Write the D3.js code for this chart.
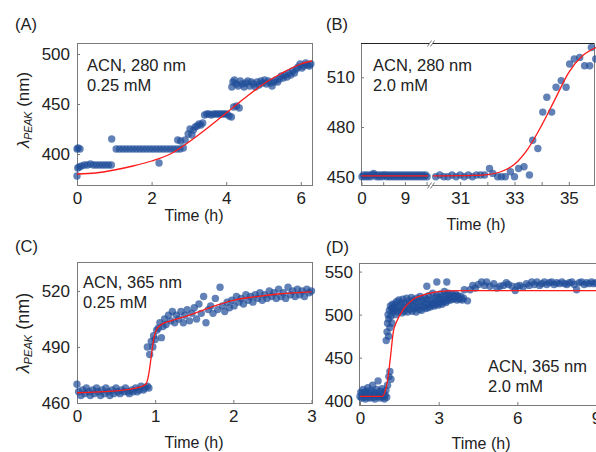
<!DOCTYPE html>
<html>
<head>
<meta charset="utf-8">
<script src="https://cdn.jsdelivr.net/npm/d3@7"></script>
<style>
body { margin: 0; background: #fff; }
text { font-family: "Liberation Sans", Arial, sans-serif; fill: #222; }
</style>
</head>
<body>
<div id="fig"></div>
<script>
// (A) ACN, 280 nm, 0.25 mM  -- [time h, peak nm]
var pointsA = [[0,405],[0.03,406],[0.08,405],[0,378],[0.02,386],[0.06,387],
  [0.12,388],[0.2,389],[0.28,389],[0.36,390],[0.44,389],[0.52,389],[0.6,389],[0.68,389],[0.76,389],[0.84,389],[0.92,389],
  [0.93,415],
  [1.05,405],[1.14,405],[1.23,405],[1.32,405],[1.41,405],[1.5,405],[1.59,405],[1.68,405],[1.77,405],[1.86,405],[1.95,405],
  [2.04,405],[2.13,405],[2.22,405],[2.31,405],[2.4,405],[2.49,405],[2.58,405],[2.67,405],[2.76,405],
  [2.2,391],[2.7,414],[2.78,413],[2.85,406],[2.9,414],
  [2.98,420],[3.03,425],[3.08,419],[3.12,424],[3.17,427],[3.22,428],[3.27,430],[3.32,429],[3.37,431],
  [3.42,439],[3.48,440],[3.54,440],[3.6,439],[3.66,440],[3.72,440],[3.78,440],[3.84,440],[3.9,440],[3.96,440],[4.02,440],[4.08,438],[4.14,437],
  [4.2,447],[4.28,448],[4.35,446],
  [4.15,467],[4.18,472],[4.22,474],[4.27,470],[4.32,468],[4.38,473],[4.43,470],[4.48,467],[4.53,471],[4.58,473],[4.63,468],
  [4.68,472],[4.73,470],[4.78,467],[4.83,472],[4.88,469],[4.93,473],[4.98,471],[5.03,474],[5.08,470],[5.13,473],[5.18,471],
  [5.23,468],[5.28,472],[5.33,474],[5.38,472],[5.43,475],[5.48,478],[5.53,476],[5.58,479],[5.63,477],[5.68,481],[5.73,479],
  [5.78,483],[5.83,481],[5.88,485],[5.93,487],[5.98,490],[6.03,486],[6.08,488],[6.13,491],[6.18,489],[6.23,488],[6.27,490]];
var fitA = [[0,380],[0.5,381],[1,384],[1.5,388],[2,393],[2.5,400],[3,412],[3.5,426],[4,441],[4.5,456],[5,470],[5.5,481],[6,490],[6.3,493]];

// (B) ACN, 280 nm, 2.0 mM (broken time axis)
var pointsB = [[0.1,450],[0.4,451],[0.7,450],[1.0,451],[1.3,450],[1.6,451],[1.9,450],[2.2,451],[2.5,452],[2.8,451],[3.1,450],
  [3.4,451],[3.7,450],[4.0,451],[4.3,450],[4.6,451],[4.9,451],[5.2,450],[5.5,451],[5.8,450],[6.1,451],[6.4,450],[6.7,451],
  [7.0,450],[7.3,451],[7.6,450],[7.9,451],[8.2,450],[8.5,451],[8.8,450],[9.1,451],[9.4,450],[9.7,451],[10.0,450],[10.3,451],
  [10.6,450],[10.9,451],[11.2,450],[11.5,451],[11.8,450],[12.1,451],[12.4,450],[12.7,451],[13.0,450],[13.3,451],[13.6,450],
  [30.1,450],[30.25,451],[30.4,450],[30.55,450],[30.7,451],[30.85,450],[31.0,451],[31.15,450],[31.3,451],[31.45,450],
  [31.6,451],[31.75,451],[31.9,451],[32.08,455],[32.2,452],[32.38,450],[32.52,450],[32.66,450],[32.85,453],[33.0,450],
  [33.15,455],[33.35,456],[33.55,451],[33.67,472],[33.86,467],[34.04,489],[34.19,498],[34.37,489],[34.53,504],[34.72,508],
  [34.9,504],[35.03,518],[35.2,521],[35.4,522],[35.58,517],[35.77,517],[35.83,528],[35.99,521]];
var fitB1 = [[0,450.5],[13.8,450.5]];
var fitB2 = [[30,450.5],[31,450.6],[31.5,450.8],[32,451.3],[32.5,453],[33,457.5],[33.5,467],[34,481],[34.5,497],[35,513],[35.5,523],[36,528]];

// (C) ACN, 365 nm, 0.25 mM
var pointsC = [[0,470],[0.02,466],[0.05,464],[0.07,467],[0.1,465],[0.12,468],[0.15,466],[0.17,464],[0.2,467],[0.22,465],
  [0.25,468],[0.27,466],[0.3,464],[0.32,467],[0.35,465],[0.37,468],[0.4,466],[0.42,464],[0.45,467],[0.47,465],[0.5,468],
  [0.52,466],[0.55,465],[0.57,467],[0.6,466],[0.62,468],[0.65,466],[0.67,465],[0.7,467],[0.72,466],[0.75,468],[0.77,466],
  [0.8,467],[0.82,469],[0.85,467],[0.87,468],[0.9,469],[0.92,468],
  [0.9,490],[0.93,486],[0.95,493],[0.97,490],[0.98,496],[1.0,494],[1.02,499],[1.04,500],[1.06,503],[1.08,495],[1.1,501],
  [1.12,505],[1.14,502],[1.17,507],[1.2,504],[1.22,509],[1.25,503],[1.27,507],[1.3,505],[1.33,509],[1.36,503],[1.38,507],
  [1.41,510],[1.44,504],[1.47,508],[1.5,511],[1.53,505],[1.56,513],[1.59,508],[1.62,517],[1.65,503],[1.68,510],[1.71,512],
  [1.74,508],[1.77,516],[1.8,510],[1.83,522],[1.86,512],[1.89,509],[1.92,514],[1.95,511],[1.98,515],[2.01,512],[2.04,517],
  [2.07,514],[2.1,516],[2.13,513],[2.16,518],[2.19,515],[2.22,517],[2.25,514],[2.28,518],[2.31,516],[2.34,519],[2.37,515],
  [2.4,518],[2.43,516],[2.46,520],[2.49,517],[2.52,519],[2.55,516],[2.58,521],[2.61,517],[2.64,519],[2.67,516],[2.7,522],
  [2.73,518],[2.76,520],[2.79,517],[2.82,521],[2.85,518],[2.88,520],[2.91,517],[2.94,521],[2.97,519],[3.0,520]];
var fitC = [[0,465.5],[0.5,466.5],[0.8,468.5],[0.88,470],[0.92,476],[0.95,485],[0.98,494],[1.02,499.5],[1.08,502],[1.2,504],
  [1.4,506.5],[1.6,509.5],[1.8,512.5],[2.0,515],[2.3,517],[2.6,518.5],[3.0,519.5]];

// (D) ACN, 365 nm, 2.0 mM
var pointsD = [[0,405],[0.03,410],[0.06,403],[0.09,408],[0.12,413],[0.15,404],[0.18,409],[0.21,402],[0.24,411],[0.27,406],
  [0.3,415],[0.33,404],[0.36,409],[0.39,403],[0.42,412],[0.45,406],[0.48,418],[0.51,404],[0.54,410],[0.57,402],[0.6,408],
  [0.63,413],[0.66,405],[0.69,423],[0.72,407],[0.75,403],[0.78,411],[0.81,405],[0.84,414],[0.87,404],[0.9,409],[0.93,402],
  [0.96,406],[0.99,412],[1.02,404],
  [1.05,418],[1.1,428],[1.14,434],[1.18,425],[1.0,470],[1.03,480],[1.05,490],[1.07,500],[1.09,475],[1.1,495],[1.12,505],
  [1.14,485],[1.16,510],[1.18,498],[1.2,507],[1.22,490],[1.24,512],[1.26,503],[1.28,508],
  [1.3,505],[1.33,512],[1.36,500],[1.39,515],[1.42,508],[1.45,503],[1.48,517],[1.51,510],[1.54,505],[1.57,514],[1.6,502],
  [1.63,518],[1.66,509],[1.69,504],[1.72,513],[1.75,507],[1.78,519],[1.81,503],[1.84,511],[1.87,516],[1.9,506],[1.93,513],
  [1.96,520],[1.99,504],[2.02,510],[2.05,517],[2.08,507],[2.11,514],[2.14,503],[2.17,519],[2.2,509],[2.23,515],[2.26,506],
  [2.29,521],[2.32,511],[2.35,505],[2.38,517],[2.41,509],[2.44,514],[2.47,520],[2.5,507],[2.53,512],[2.56,518],[2.59,508],
  [2.62,522],[2.65,513],[2.68,509],[2.71,517],[2.74,511],[2.77,525],[2.8,514],[2.83,510],[2.86,519],[2.89,512],[2.92,522],
  [2.95,515],[2.98,511],[3.01,520],[3.04,513],[3.07,524],[3.1,517],[3.13,512],[3.16,521],[3.19,515],[3.22,527],[3.25,518],
  [3.28,514],[3.31,523],[3.34,516],[3.37,525],[3.4,519],[3.43,521],[3.46,517],[3.49,524],[3.52,520],[3.55,518],[3.58,522],
  [3.61,519],[3.64,524],[3.67,521],[3.7,517],[3.73,522],[3.76,520],[3.8,518],[3.85,521],[3.9,517],[3.95,519],
  [2.55,533],[2.93,538],[3.31,538],
  [3.98,529],[4.1,516],[4.2,529],[4.3,534],[4.4,531],[4.52,535],[4.64,538],[4.75,534],[4.83,538],[4.96,533],[5.1,536],
  [5.22,531],[5.34,533],[5.47,534],[5.58,537],[5.66,535],[5.8,533],[5.92,528],[6.0,533],[6.1,534],[6.22,532],[6.35,536],
  [6.45,534],[6.55,538],[6.65,535],[6.75,538],[6.85,534],[6.93,536],[7.03,538],[7.12,535],[7.22,537],[7.31,538],[7.4,535],
  [7.5,537],[7.6,536],[7.7,538],[7.8,536],[7.89,535],[7.98,537],[8.08,538],[8.17,535],[8.26,529],[8.36,537],[8.45,538],
  [8.55,535],[8.64,537],[8.74,536],[8.83,538],[8.92,536],[9.0,537]];
var fitD = [[0,405],[0.85,405],[0.95,410],[1.02,418],[1.1,435],[1.17,453],[1.27,480],[1.4,492],[1.65,506],[2.03,518],
  [2.55,524],[3.3,527.5],[4,528],[9,528]];

var svg = d3.select("#fig").append("svg")
    .attr("width", 596)
    .attr("height", 452);

function drawPanel(p) {
    var g = svg.append("g");
    var y = d3.scaleLinear().domain(p.yDomain).range([p.bottom, p.top]);
    var xs = p.segs.map(function (s) { return d3.scaleLinear().domain(s.domain).range(s.range); });
    // which x segment a time falls in (only B has two)
    function seg(t) { return (p.segs.length > 1 && t > 20) ? 1 : 0; }
    function xOf(t) { return xs[seg(t)](t); }

    // frame
    g.append("rect")
        .attr("x", p.left + 0.5).attr("y", p.top + 0.5)
        .attr("width", p.right - p.left).attr("height", p.bottom - p.top)
        .attr("fill", "none").attr("stroke", "#7a7a7a").attr("stroke-width", 1);

    // axes
    p.segs.forEach(function (s, i) {
        var ax = d3.axisBottom(xs[i]).tickValues(s.ticks)
            .tickFormat(function (d) { return s.labels.indexOf(d) >= 0 ? d : ""; })
            .tickSizeInner(-3).tickSizeOuter(0).tickPadding(7);
        var ag = g.append("g").attr("transform", `translate(0, ${p.bottom})`).call(ax);
        ag.select(".domain").remove();
        ag.attr("font-size", 17).attr("font-family", null).attr("color", "#222");
        ag.selectAll("line").attr("stroke", "#7a7a7a");
    });
    var yax = d3.axisLeft(y).tickValues(p.yTicks).tickSizeInner(-3).tickSizeOuter(0).tickPadding(p.yPad);
    var yg = g.append("g").attr("transform", `translate(${p.left}, 0)`).call(yax);
    yg.select(".domain").remove();
    yg.attr("font-size", 17).attr("font-family", null).attr("color", "#222");
    yg.selectAll("line").attr("stroke", "#7a7a7a");

    // scatter
    g.append("g").selectAll("circle").data(p.points).enter()
        .append("circle")
        .attr("cx", function (d) { return xOf(d[0]); })
        .attr("cy", function (d) { return y(d[1]); })
        .attr("r", 3.7)
        .attr("fill", "#1f4d98")
        .attr("fill-opacity", 0.7);

    // fitted curves
    p.fits.forEach(function (f) {
        var line = d3.line()
            .x(function (d) { return xOf(d[0]); })
            .y(function (d) { return y(d[1]); })
            .curve(d3.curveMonotoneX);
        g.append("path").datum(f).attr("d", line)
            .attr("fill", "none").attr("stroke", "#ff1a1a").attr("stroke-width", 1.3);
    });

    // axis break marks
    if (p.breakX) {
        g.append("line").attr("x1", p.left).attr("x2", p.right).attr("y1", p.top + 0.5).attr("y2", p.top + 0.5)
            .attr("stroke", "#222").attr("stroke-width", 1.2);
        [p.top, p.bottom].forEach(function (yy) {
            g.append("rect").attr("x", p.breakX - 2).attr("y", yy - 2).attr("width", 4).attr("height", 5).attr("fill", "#fff");
            [-1.5, 1.5].forEach(function (dx) {
                g.append("line")
                    .attr("x1", p.breakX + dx - 2).attr("y1", yy + 3.5)
                    .attr("x2", p.breakX + dx + 2).attr("y2", yy - 2.5)
                    .attr("stroke", "#555").attr("stroke-width", 0.8);
            });
        });
    }

    // panel letter
    g.append("text").text(p.letter).attr("x", p.letterPos[0]).attr("y", p.letterPos[1]).style("font-size", "16.5px");

    // condition note
    p.note.forEach(function (t, i) {
        g.append("text").text(t).attr("x", p.notePos[0]).attr("y", p.notePos[1] + i * 19.5).style("font-size", "16.5px");
    });

    // x label
    g.append("text").text("Time (h)")
        .attr("x", p.timePos[0]).attr("y", p.timePos[1])
        .attr("text-anchor", "middle").style("font-size", "16px");

    // y label
    if (p.yLabel) {
        var yl = g.append("text")
            .attr("transform", `translate(${p.yLabel[0]}, ${p.yLabel[1]}) rotate(-90)`)
            .attr("text-anchor", "middle").style("font-size", p.yLabel[2] + "px");
        yl.append("tspan").style("font-style", "italic").text("λ");
        yl.append("tspan").style("font-style", "italic").style("font-size", (p.yLabel[2] * 0.62) + "px").attr("dy", 3).text("PEAK");
        yl.append("tspan").attr("dy", -3).text(" (nm)");
    }
}

drawPanel({
    left: 77, right: 312, top: 43, bottom: 185,
    yDomain: [369, 511], yTicks: [400, 450, 500], yPad: 7,
    segs: [{ domain: [0, 6.3], range: [77, 312], ticks: [0, 2, 4, 6], labels: [0, 2, 4, 6] }],
    points: pointsA, fits: [fitA],
    letter: "(A)", letterPos: [15, 30],
    note: ["ACN, 280 nm", "0.25 mM"], notePos: [87, 71],
    timePos: [194, 221], yLabel: [29, 110, 17]
});

drawPanel({
    left: 361, right: 594, top: 43, bottom: 185,
    yDomain: [445, 530.7], yTicks: [450, 480, 510], yPad: 6,
    segs: [
        { domain: [0, 14], range: [361.5, 429], ticks: [0, 4.5, 9, 13.5], labels: [0, 9] },
        { domain: [30, 36], range: [433, 596], ticks: [31, 32, 33, 34, 35], labels: [31, 33, 35] }
    ],
    points: pointsB, fits: [fitB1, fitB2], breakX: 431,
    letter: "(B)", letterPos: [326, 30],
    note: ["ACN, 280 nm", "2.0 mM"], notePos: [373, 71],
    timePos: [476, 230]
});

drawPanel({
    left: 77, right: 312, top: 262, bottom: 403,
    yDomain: [460, 535.5], yTicks: [460, 490, 520], yPad: 7,
    segs: [{ domain: [0, 3], range: [77, 311.5], ticks: [0, 1, 2, 3], labels: [0, 1, 2, 3] }],
    points: pointsC, fits: [fitC],
    letter: "(C)", letterPos: [15, 252],
    note: ["ACN, 365 nm", "0.25 mM"], notePos: [83, 288],
    timePos: [194, 448], yLabel: [29, 333, 18]
});

drawPanel({
    left: 359, right: 596, top: 263, bottom: 405,
    yDomain: [395, 560], yTicks: [400, 450, 500, 550], yPad: 6,
    segs: [{ domain: [0, 9], range: [360, 596], ticks: [0, 3, 6, 9], labels: [0, 3, 6, 9] }],
    points: pointsD, fits: [fitD],
    letter: "(D)", letterPos: [326, 253],
    note: ["ACN, 365 nm", "2.0 mM"], notePos: [488, 372],
    timePos: [481, 449]
});
</script>
</body>
</html>
